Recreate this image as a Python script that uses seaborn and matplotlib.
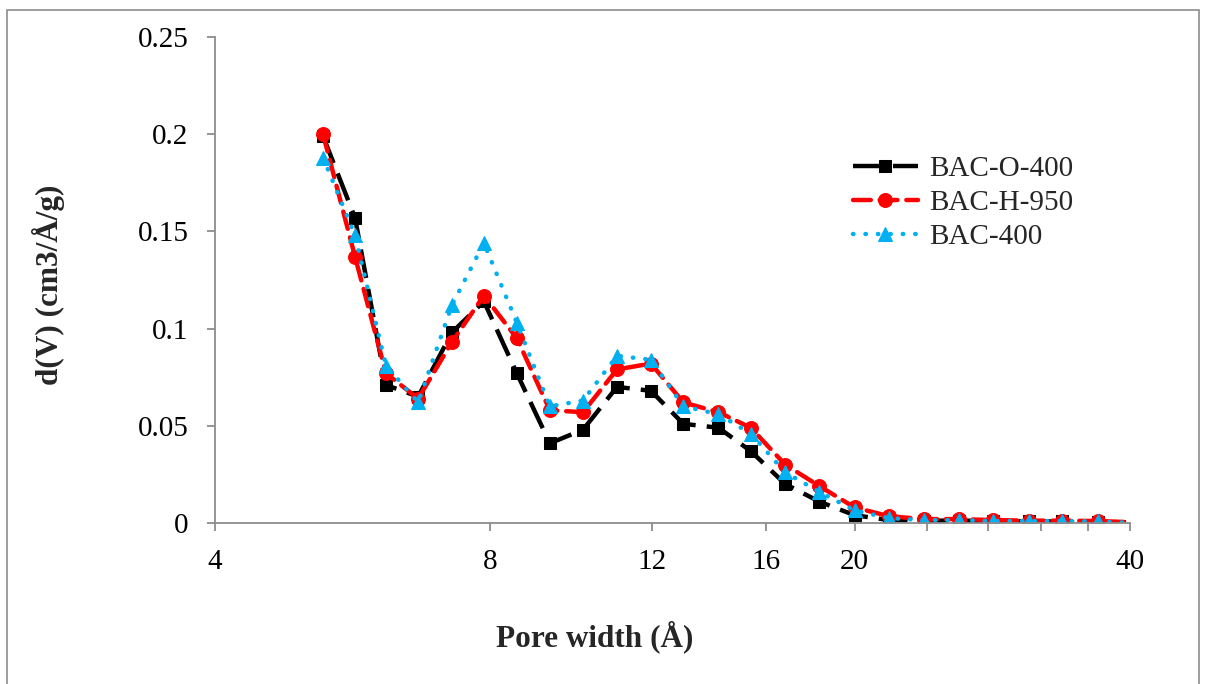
import numpy as np
import pandas as pd
import seaborn as sns
import matplotlib
matplotlib.use("Agg")
import matplotlib.pyplot as plt
from matplotlib.patches import Rectangle
from matplotlib.ticker import FixedLocator, FixedFormatter, NullLocator

# pore width (Å) and dV/dW for each sample
pore_width = [5.25, 5.69, 6.15, 6.67, 7.26, 7.87, 8.55, 9.29, 10.1, 11.0, 11.98, 13.0,
              14.2, 15.4, 16.8, 18.3, 20.0, 21.8, 23.8, 26.0, 28.3, 31.0, 33.7, 36.9, 39.6]
bac_o_400 = [0.199, 0.157, 0.071, 0.065, 0.098, 0.114, 0.077, 0.041, 0.048, 0.070, 0.068, 0.051,
             0.049, 0.037, 0.020, 0.011, 0.004, 0.0015, 0.0012, 0.0012, 0.001, 0.0008, 0.0008, 0.0006, 0.0003]
bac_h_950 = [0.200, 0.137, 0.077, 0.064, 0.093, 0.117, 0.095, 0.058, 0.057, 0.079, 0.082, 0.062,
             0.057, 0.049, 0.030, 0.019, 0.008, 0.0035, 0.002, 0.002, 0.0015, 0.0012, 0.0012, 0.001, 0.0005]
bac_400 = [0.188, 0.148, 0.081, 0.062, 0.112, 0.144, 0.103, 0.060, 0.063, 0.086, 0.084, 0.060,
           0.056, 0.046, 0.026, 0.016, 0.0065, 0.0025, 0.0015, 0.0015, 0.001, 0.001, 0.001, 0.0008, 0.0002]

x_ticks = [4, 8, 12, 16, 20, 24, 28, 32, 36, 40]
x_tick_labels = ["4", "8", "12", "16", "20", "", "", "", "", "40"]
y_ticks = [0, 0.05, 0.1, 0.15, 0.2, 0.25]
y_tick_labels = ["0", "0.05", "0.1", "0.15", "0.2", "0.25"]

sns.set_theme(style="white")
plt.rcParams['font.family'] = ['Liberation Serif', 'DejaVu Serif']

fig = plt.figure(figsize=(12.09, 6.84), dpi=100)
ax = fig.add_axes([0.1778, 0.2354, 0.9347 - 0.1778, 0.9459 - 0.2354])

# outer chart border
fig.patches.append(Rectangle((0.006, -0.01), 0.986, 0.995, transform=fig.transFigure,
                             fill=False, edgecolor='#8c8c8c', linewidth=1.2))

mk_every = slice(0, len(pore_width) - 1)

sns.lineplot(x=pore_width, y=bac_o_400, ax=ax, color='black', marker='s', markersize=9,
             markeredgecolor='black', linewidth=3.2, linestyle=(0, (6.5, 2.5)),
             markevery=mk_every, label='BAC-O-400', sort=False)
sns.lineplot(x=pore_width, y=bac_h_950, ax=ax, color='#ff0000', marker='o', markersize=10,
             markeredgecolor='#ff0000', linewidth=3.2, linestyle=(0, (4, 2)),
             dash_capstyle='round', markevery=mk_every, label='BAC-H-950', sort=False)
sns.lineplot(x=pore_width, y=bac_400, ax=ax, color='#00b0f0', marker='^', markersize=10,
             markeredgecolor='#00b0f0', linewidth=3.2, linestyle=(0, (0.1, 2.7)),
             dash_capstyle='round', markevery=mk_every, label='BAC-400', sort=False)

ax.set_xscale('log')
ax.set_xlim(4, 40)
ax.set_ylim(0, 0.25)
ax.xaxis.set_major_locator(FixedLocator(x_ticks))
ax.xaxis.set_major_formatter(FixedFormatter(x_tick_labels))
ax.xaxis.set_minor_locator(NullLocator())
ax.set_yticks(y_ticks)
ax.set_yticklabels(y_tick_labels)

for side in ['top', 'right']:
    ax.spines[side].set_visible(False)
for side in ['left', 'bottom']:
    ax.spines[side].set_color('#8c8c8c')
    ax.spines[side].set_linewidth(1.3)

ax.tick_params(axis='both', which='major', direction='out', length=6, width=1.3,
               color='#8c8c8c', labelsize=21, labelcolor='black', pad=13)
ax.tick_params(axis='x', bottom=True)
ax.tick_params(axis='y', left=True)
ax.grid(False)

ax.set_xlabel('Pore width (Å)', fontsize=22.5, fontweight='bold')
ax.set_ylabel('d(V) (cm3/Å/g)', fontsize=22.5, fontweight='bold')
ax.xaxis.set_label_coords(0.415, -0.20)
ax.yaxis.set_label_coords(-0.164, 0.49)

leg = ax.legend(loc='upper left', bbox_to_anchor=(0.669, 0.809), frameon=False,
                fontsize=21, handlelength=2.2, handletextpad=0.4, labelspacing=0.25,
                numpoints=1)

fig.savefig('out.png', dpi=100)
